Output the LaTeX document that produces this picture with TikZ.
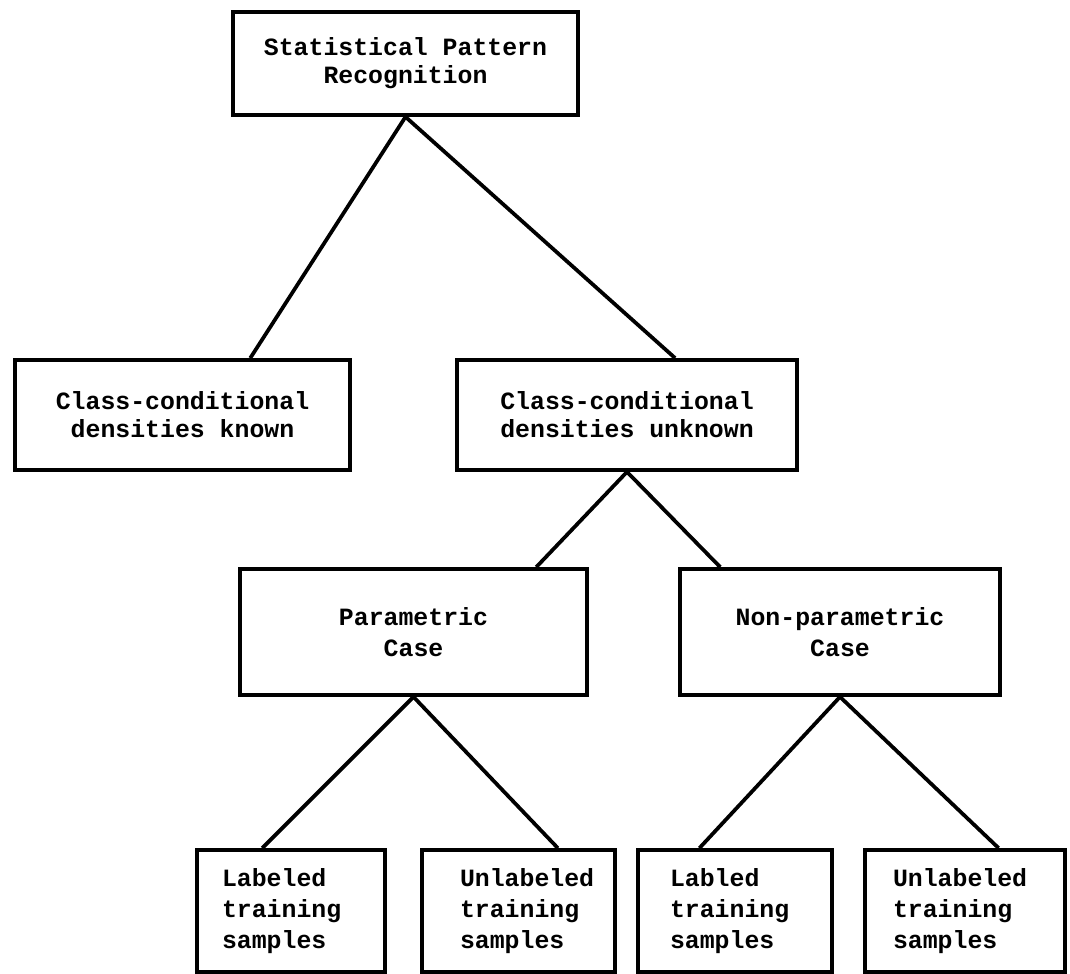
\documentclass[tikz,border=0pt]{standalone}
\usepackage{fontspec}
\setmonofont{Liberation Mono}
\usetikzlibrary{calc}

\tikzset{
  box/.style={draw, line width=1.6pt, inner sep=0pt, align=center,
    font=\ttfamily\bfseries\fontsize{10.6}{12}\selectfont},
  mid/.style={box, font=\ttfamily\bfseries\fontsize{10.6}{13}\selectfont},
  leaf/.style={box, align=left, text width=#1,
    font=\ttfamily\bfseries\fontsize{10.6}{13.2}\selectfont},
  link/.style={line width=1.6pt}
}

\begin{document}
\begin{tikzpicture}[x=0.015cm, y=-0.015cm]
\useasboundingbox (0,0) rectangle (1070,974);

% Racine
\node[box, minimum width=5.175cm, minimum height=1.545cm] (spr) at (405.5,63.5)
  {Statistical Pattern\\Recognition};

% Niveau 1
\node[box, minimum width=5.025cm, minimum height=1.65cm] (ckn) at (182.5,415)
  {Class-conditional\\densities known};
\node[box, minimum width=5.1cm, minimum height=1.65cm] (cku) at (627,415)
  {Class-conditional\\densities unknown};

% Niveau 2
\node[mid, minimum width=5.205cm, minimum height=1.89cm] (par) at (413.5,632)
  {Parametric\\Case};
\node[mid, minimum width=4.8cm, minimum height=1.89cm] (npar) at (840,632)
  {Non-parametric\\Case};

% Feuilles
\node[leaf=2.07cm, minimum width=2.82cm, minimum height=1.83cm] (lab1) at (291,911)
  {Labeled\\training\\samples};
\node[leaf=1.755cm, minimum width=2.895cm, minimum height=1.83cm] (unl1) at (518.5,911)
  {Unlabeled\\training\\samples};
\node[leaf=1.95cm, minimum width=2.91cm, minimum height=1.83cm] (lab2) at (735,911)
  {Labled\\training\\samples};
\node[leaf=2.16cm, minimum width=3.0cm, minimum height=1.83cm] (unl2) at (965,911)
  {Unlabeled\\training\\samples};

% Liens
\draw[link] (spr.south) -- ($(ckn.north west)!0.7!(ckn.north east)$);
\draw[link] (spr.south) -- ($(cku.north west)!0.64!(cku.north east)$);
\draw[link] (cku.south) -- ($(par.north west)!0.85!(par.north east)$);
\draw[link] (cku.south) -- ($(npar.north west)!0.13!(npar.north east)$);
\draw[link] (par.south) -- ($(lab1.north west)!0.35!(lab1.north east)$);
\draw[link] (par.south) -- ($(unl1.north west)!0.7!(unl1.north east)$);
\draw[link] (npar.south) -- ($(lab2.north west)!0.32!(lab2.north east)$);
\draw[link] (npar.south) -- ($(unl2.north west)!0.665!(unl2.north east)$);

\end{tikzpicture}
\end{document}
